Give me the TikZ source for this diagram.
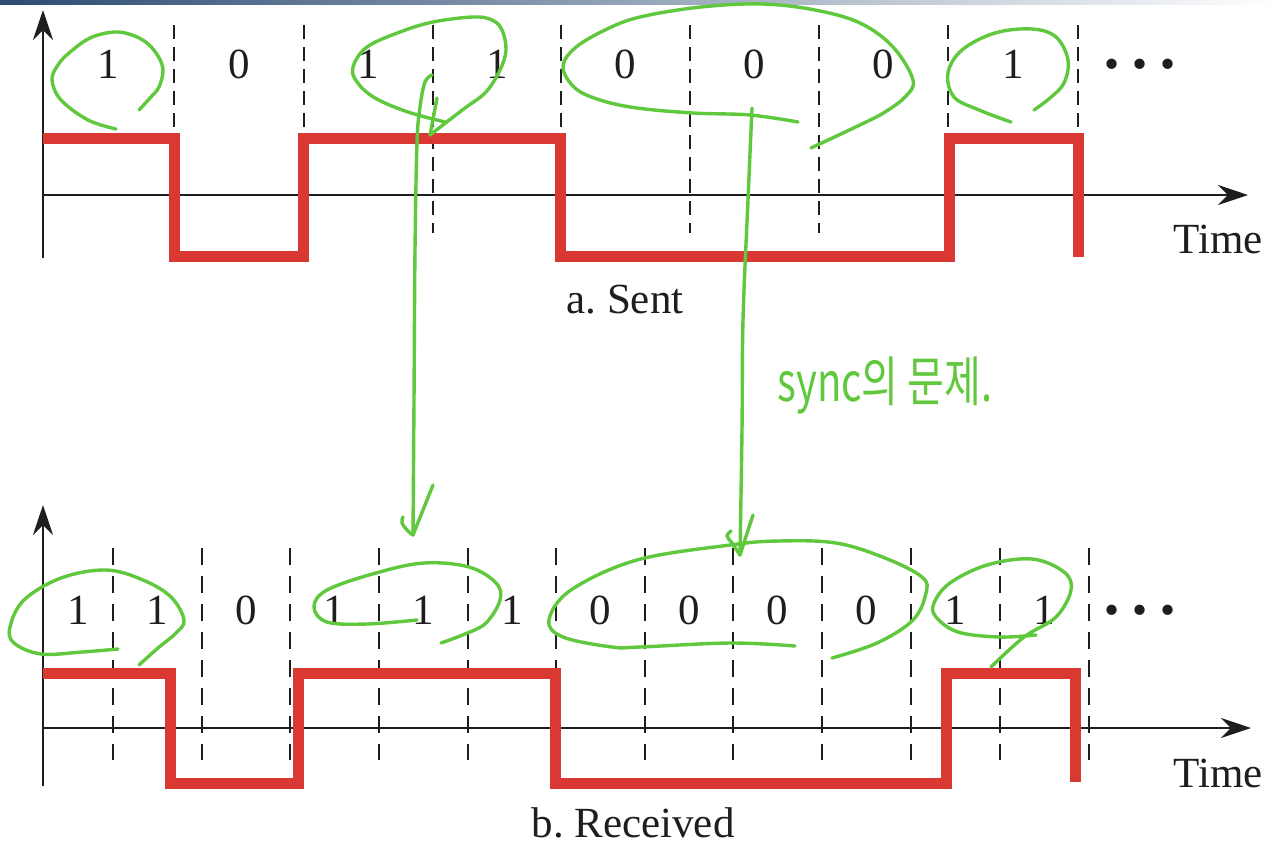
\documentclass[tikz,border=0pt]{standalone}
\usepackage{graphicx}
\usepackage{fontspec}
\setmainfont{Liberation Serif}
\newfontfamily\krfont{Noto Sans CJK KR}
\usetikzlibrary{arrows.meta}
\definecolor{sigred}{RGB}{218,56,50}
\definecolor{hgreen}{RGB}{95,200,60}
\definecolor{axisc}{RGB}{30,30,30}
\definecolor{barblue}{RGB}{45,75,115}
\frenchspacing
\begin{document}
\begin{tikzpicture}[x=0.5pt,y=-0.5pt,
  axisline/.style={draw=axisc, line width=1.3pt, -{Stealth[length=15pt,width=10pt]}},
  dashA/.style={draw=axisc, line width=1.3pt, dash pattern=on 7pt off 4pt},
  dashB/.style={draw=axisc, line width=1.3pt, dash pattern=on 8.5pt off 5.5pt},
  sig/.style={draw=sigred, line width=5.5pt, line join=miter},
  lbl/.style={font=\fontsize{21.5}{24}\selectfont, anchor=base, inner sep=0pt, text=axisc},
  hand/.style={draw=hgreen, line width=1.7pt, line cap=round, line join=round},
  handcurve/.style={hand, smooth, tension=0.6}
]
\useasboundingbox (0,0) rectangle (1280,847);
\fill[white] (0,0) rectangle (1280,847);
\shade[left color=barblue, right color=white] (0,0) rectangle (1280,4);

% ---------- top panel: sent ----------
\foreach \x in {174,304,433,561,690,819,948,1078}
  \draw[dashA] (\x,25) -- (\x,233);
\coordinate (tyb) at (43,258);
\coordinate (tyt) at (43,10);
\coordinate (txl) at (43,195);
\coordinate (txr) at (1248,195);
\draw[axisline] (tyb) -- (tyt);
\draw[axisline] (txl) -- (txr);
\draw[sig] (43,138.5) -- (174,138.5) -- (174,256) -- (303,256) -- (303,138.5)
  -- (560,138.5) -- (560,256) -- (949,256) -- (949,138.5) -- (1078,138.5) -- (1078,257);
\foreach \x/\b [count=\i] in {108/1,239/0,368/1,497/1,625/0,754/0,883/0,1013/1}
  \node[lbl] (ta\i) at (\x,78) {\b};
\node[lbl] (tdots) at (1140,78) {•\hspace{6.5pt}•\hspace{6.5pt}•};
\node[lbl] (ttime) at (1218,253) {Time};
\node[lbl] (tcap) at (625,313) {a. Sent};

% ---------- bottom panel: received ----------
\foreach \x in {113,202,290,379,468,556,645,733,822,911,1000,1089}
  \draw[dashB] (\x,548) -- (\x,760);
\coordinate (byb) at (43,786);
\coordinate (byt) at (43,505);
\coordinate (bxl) at (43,728);
\coordinate (bxr) at (1251,728);
\draw[axisline] (byb) -- (byt);
\draw[axisline] (bxl) -- (bxr);
\draw[sig] (43,673.5) -- (170,673.5) -- (170,783) -- (298.5,783) -- (298.5,673.5)
  -- (555,673.5) -- (555,783) -- (946,783) -- (946,673.5) -- (1075,673.5) -- (1075,782);
\foreach \x/\b [count=\i] in {78/1,157/1,246/0,334/1,423/1,512/1,600/0,689/0,777/0,866/0,955/1,1044/1}
  \node[lbl] (ba\i) at (\x,624) {\b};
\node[lbl] (bdots) at (1140,624) {•\hspace{6.5pt}•\hspace{6.5pt}•};
\node[lbl] (btime) at (1218,787) {Time};
\node[lbl] (bcap) at (633,837) {b. Received};

% ---------- green handwriting ----------
% top loops
\draw[handcurve] plot coordinates {(116,129) (88,120) (61,100) (52,80) (58,65) (69,53) (90,38) (114,32) (132,35) (147,43) (158,56) (163,70) (159,87) (150,98) (139,110)};
\draw[handcurve] plot coordinates {(445,122) (408,112) (375,98) (357,82) (353,67) (367,47) (400,32) (433,22) (473,17) (492,20) (502,30) (506,50) (500,70) (486,92) (465,108) (448,121) (430,135)};
\draw[hand] (437,98) -- (430,135);
\draw[handcurve] plot coordinates {(798,122) (750,115) (693,113) (637,108) (600,100) (575,88) (563,67) (575,48) (605,30) (640,17) (701,7) (762,4) (815,10) (860,23) (893,47) (913,80) (905,97) (885,112) (864,123) (811,148)};
\draw[handcurve] plot coordinates {(1011,122) (979,110) (954,97) (948,73) (962,50) (995,33) (1032,29) (1056,37) (1068,60) (1064,83) (1050,98) (1034,110)};
% arrows
\coordinate (a1s) at (432,75);
\coordinate (a1e) at (413,535);
\draw[handcurve] plot coordinates {(a1s) (425,82) (420,107) (417,143) (415,250) (414,400) (a1e)};
\draw[hand] (433,485) -- (a1e);
\draw[handcurve] plot coordinates {(403,517) (402,523) (408,531) (a1e)};
\coordinate (a2s) at (752,108);
\coordinate (a2e) at (740,555);
\draw[handcurve] plot coordinates {(a2s) (748,200) (743,320) (742,430) (a2e)};
\draw[hand] (753,515) -- (a2e);
\draw[handcurve] plot coordinates {(731,531) (727,536) (732,543) (a2e)};
% bottom loops
\draw[handcurve] plot coordinates {(118,649) (82,652) (41,654) (14,643) (10,627) (24,600) (61,578) (106,570) (143,580) (171,597) (184,620) (176,633) (158,648) (139,665)};
\draw[handcurve] plot coordinates {(417,620) (367,624) (327,622) (314,607) (327,590) (376,573) (424,563) (469,567) (496,583) (500,600) (486,623) (465,634) (441,643)};
\draw[handcurve] plot coordinates {(795,646) (730,643) (640,647) (612,647) (563,637) (549,620) (571,590) (637,560) (730,545) (779,541) (836,543) (885,558) (922,577) (926,593) (913,620) (877,643) (832,658)};
\draw[handcurve] plot coordinates {(1036,635) (999,637) (958,632) (936,617) (934,603) (950,583) (987,565) (1032,559) (1064,572) (1071,590) (1056,617) (1024,637) (991,667)};
% note
\node[text=hgreen, inner sep=0pt, font=\krfont\fontsize{20}{24}\selectfont] (note) at (885,385) {\scalebox{1}[1.35]{sync의 문제.}};
\end{tikzpicture}
\end{document}
